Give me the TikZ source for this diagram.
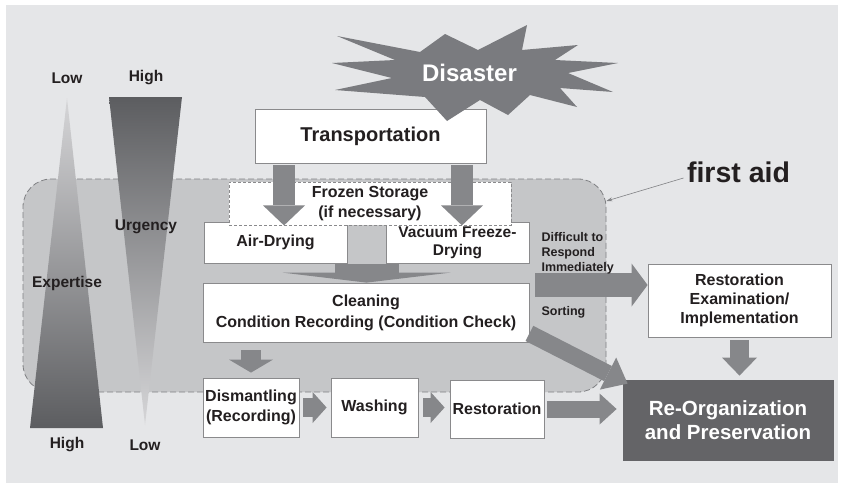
\documentclass[tikz,border=0pt]{standalone}
\usepackage{fontspec}
\setmainfont{Liberation Sans}
\usetikzlibrary{arrows.meta,calc}

\definecolor{bgpanel}{RGB}{229,230,232}
\definecolor{aidfill}{RGB}{197,198,200}
\definecolor{aidline}{RGB}{128,129,132}
\definecolor{arrowgray}{RGB}{134,135,138}
\definecolor{burstgray}{RGB}{122,123,127}
\definecolor{boxline}{RGB}{138,138,140}
\definecolor{darkbox}{RGB}{100,100,103}
\definecolor{tridark}{RGB}{92,93,96}
\definecolor{trimid}{RGB}{114,115,118}
\definecolor{trilight}{RGB}{214,214,216}
\definecolor{inktext}{RGB}{35,31,32}

\begin{document}
\begin{tikzpicture}[x=1pt, y=-1pt,
    font=\bfseries\fontsize{16}{20}\selectfont, text=inktext,
    box/.style={draw=boxline, line width=0.8pt, fill=white, align=center, inner sep=1pt},
    aid/.style={draw=aidline, line width=0.8pt, dash pattern=on 6pt off 3pt, fill=aidfill, rounded corners=28pt},
    fat/.style args={#1/#2/#3}{draw=arrowgray, line width=#1, -{Triangle[width=#2, length=#3, line width=0pt]}},
    lbl/.style={font=\bfseries\fontsize{15.5}{18}\selectfont}]
    \useasboundingbox (0,0) rectangle (841,485);
    \fill[white] (0,0) rectangle (841,485);
    \fill[bgpanel] (6,5) rectangle (838,483);

    % first aid zone
    \node[aid, minimum width=583pt, minimum height=213pt] (aid) at (314.5,285.5) {};

    % Expertise (up) and Urgency (down)
    \shade[top color=trilight, middle color=trimid, bottom color=tridark] (67,98) -- (103,428) -- (30,428) -- cycle;
    \shade[top color=tridark, middle color=trimid, bottom color=trilight] (109,97) -- (182,97) -- (145,425) -- cycle;
    \node[lbl] (explow) at (67,78) {Low};
    \node[lbl] (exphigh) at (67,445) {High};
    \node[lbl] (urghigh) at (146,78) {High};
    \node[lbl] (urglow) at (145,445) {Low};
    \node[lbl] (expertise) at (67,283) {Expertise};
    \node[lbl] (urgency) at (146,227) {Urgency};

    \node[box, minimum width=231pt, minimum height=54pt, font=\bfseries\fontsize{20}{24}\selectfont] (trans) at (370.5,136) {Transportation};

    % Disaster burst
    \fill[burstgray] (337,36) -- (420,52) -- (445,34) -- (478,50) -- (527,25) -- (522,50) -- (578,45)
        -- (555,60) -- (618,63) -- (568,73) -- (613,92) -- (560,88) -- (577,107) -- (530,95)
        -- (508,115) -- (480,100) -- (447,121) -- (425,97) -- (335,90) -- (392,78) -- (332,63)
        -- (395,60) -- cycle;
    \node[text=white, font=\bfseries\fontsize{24}{28}\selectfont] (disaster) at (469.5,73) {Disaster};

    \node[box, minimum width=143pt, minimum height=41pt] (airdry) at (275.5,242.5) {Air-Drying};
    \node[box, minimum width=143pt, minimum height=41pt, font=\bfseries\fontsize{15.5}{18}\selectfont] (vacuum) at (457.5,243) {Vacuum Freeze-\\Drying};
    \node[box, dash pattern=on 3pt off 2pt, minimum width=282pt, minimum height=43pt] (frozen) at (370,203.5) {Frozen Storage\\(if necessary)};
    \node[box, minimum width=326pt, minimum height=59pt, font=\bfseries\fontsize{16}{21}\selectfont] (clean) at (366,312.5) {Cleaning\\Condition Recording (Condition Check)};
    \node[box, minimum width=96pt, minimum height=59pt] (dismantle) at (251,407.5) {Dismantling\\(Recording)};
    \node[box, minimum width=87pt, minimum height=59pt] (wash) at (374.5,407.5) {Washing};
    \node[box, minimum width=94pt, minimum height=58pt] (restore) at (497,409) {Restoration};
    \node[box, minimum width=183pt, minimum height=73pt, font=\bfseries\fontsize{16}{19}\selectfont] (exam) at (739.5,300.5) {Restoration\\Examination/\\Implementation};
    \node[box, draw=darkbox, fill=darkbox, text=white, minimum width=210pt, minimum height=80pt, font=\bfseries\fontsize{20.5}{24}\selectfont] (reorg) at (728,420) {Re-Organization\\and Preservation};

    % flow
    \draw[fat=22pt/42pt/20pt, shorten <=2pt] ($(trans.south)+(-86.5,0)$) -- ($(trans.south |- frozen.south)+(-86.5,0)$);
    \draw[fat=22pt/42pt/20pt, shorten <=2pt] ($(trans.south)+(91.5,0)$) -- ($(trans.south |- frozen.south)+(91.5,0)$);
    \coordinate (merge) at ($(airdry.south east)!0.5!(vacuum.south west)$);
    \draw[fat=64pt/168pt/10pt] (merge) -- (merge |- clean.north);
    \draw[fat=20pt/44pt/13pt, shorten <=8pt, shorten >=5pt] (dismantle.north |- clean.south) -- (dismantle.north);
    \draw[fat=19pt/31pt/14pt, shorten <=4pt, shorten >=4pt] (dismantle.east) -- (wash.west);
    \draw[fat=19pt/31pt/14pt, shorten <=5pt, shorten >=5pt] (wash.east) -- (wash.east -| restore.west);
    \draw[fat=17pt/31pt/17pt, shorten <=3pt, shorten >=6pt] (restore.east) -- (restore.east -| reorg.west);
    \draw[fat=24pt/43pt/16pt, shorten <=6pt] ($(clean.east)+(0,-27.5)$) -- ($(clean.east -| exam.west)+(0,-27.5)$);
    \draw[fat=17pt/36pt/22pt] ($(clean.south east)+(0,-9)$) -- ($(reorg.north west)+(5,4)$);
    \draw[fat=19pt/35pt/18pt, shorten <=3pt, shorten >=4pt] (exam.south) -- (exam.south |- reorg.north);

    \node[anchor=west, align=left, font=\bfseries\fontsize{12.5}{15}\selectfont] (difficult) at (538,253) {Difficult to\\Respond\\Immediately};
    \node[anchor=west, font=\bfseries\fontsize{12.5}{15}\selectfont] (sorting) at (538,312) {Sorting};

    \node[font=\bfseries\fontsize{28.5}{32}\selectfont] (firstaid) at (738.5,172) {first aid};
    \draw[aidline, line width=0.6pt, -{Stealth[length=6pt, width=4pt]}] ($(firstaid.west)+(0,6)$) -- ($(aid.east)+(0,-84.5)$);
\end{tikzpicture}
\end{document}
